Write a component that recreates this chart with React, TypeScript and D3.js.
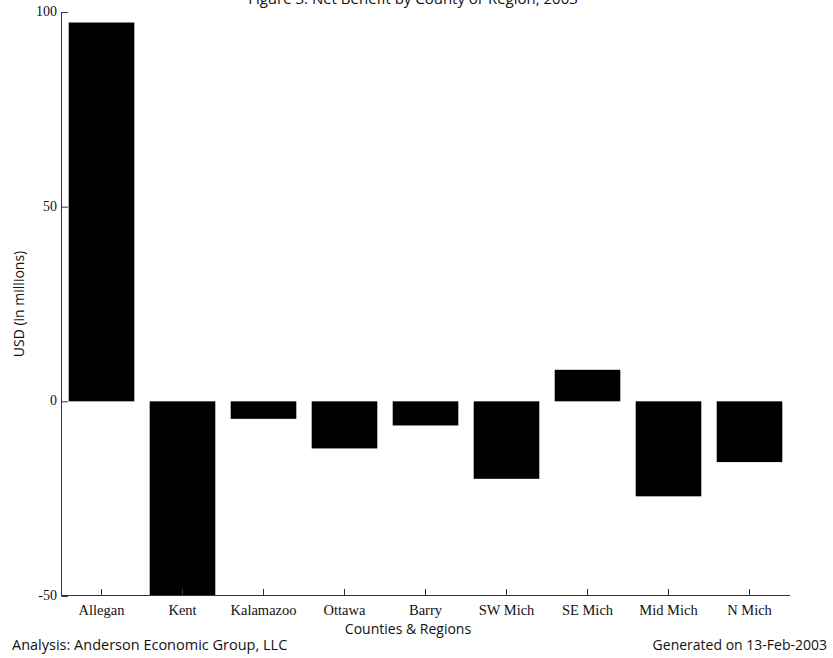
import React from "react";
import * as d3 from "d3";

const categories = ["Allegan", "Kent", "Kalamazoo", "Ottawa", "Barry", "SW Mich", "SE Mich", "Mid Mich", "N Mich"];
const values = [97.3, -62, -4.5, -12.1, -6.2, -19.9, 8.1, -24.4, -15.6];
const yTicks = [-50, 0, 50, 100];

const W = 833;
const H = 658;

export default function App() {
  const x = d3.scaleBand<string>().domain(categories).range([61, 790]).paddingInner(0.19).paddingOuter(0.095);
  const y = d3.scaleLinear().domain([-50, 100]).range([596, 12]);
  const clipBottom = y(-50);
  const serif = "'Liberation Serif', 'DejaVu Serif', serif";
  const sans = "'Open Sans', 'Noto Sans', sans-serif";
  return (
    <svg width={W} height={H} style={{ position: "absolute", left: 0, top: 0, background: "#fff" }}>
      <text x={413} y={4} textAnchor="middle" fontFamily={sans} fontSize={15} fill="#111">
        Figure 3: Net Benefit by County or Region, 2003
      </text>
      {categories.map((c, i) => {
        const v = values[i];
        const y0 = y(0);
        const y1 = Math.max(Math.min(y(v), clipBottom), 12);
        return (
          <rect key={c} x={x(c)} width={x.bandwidth()} y={Math.min(y0, y1)} height={Math.abs(y1 - y0)} fill="#000" />
        );
      })}
      {/* y axis */}
      <line x1={61.5} x2={61.5} y1={y(100)} y2={y(-50)} stroke="#333" strokeWidth={1} />
      {yTicks.map((t) => (
        <g key={t}>
          <line x1={61.5} x2={68} y1={y(t) + 0.5} y2={y(t) + 0.5} stroke="#333" />
          <text x={57} y={y(t) + 4} textAnchor="end" fontFamily={serif} fontSize={14} fill="#111">
            {t}
          </text>
        </g>
      ))}
      {/* x axis */}
      <line x1={61} x2={790} y1={595.5} y2={595.5} stroke="#333" strokeWidth={1} />
      {categories.map((c) => {
        const cx = (x(c) as number) + x.bandwidth() / 2;
        return (
          <g key={c}>
            <line x1={cx} x2={cx} y1={595.5} y2={589} stroke="#333" />
            <text x={cx} y={615} textAnchor="middle" fontFamily={serif} fontSize={14.5} fill="#111">
              {c}
            </text>
          </g>
        );
      })}
      <text transform={`translate(24,${y(25)}) rotate(-90)`} textAnchor="middle" fontFamily={sans} fontSize={14} fill="#111">
        USD (in millions)
      </text>
      <text x={408} y={634} textAnchor="middle" fontFamily={sans} fontSize={14} fill="#111">
        Counties &amp; Regions
      </text>
      <text x={12} y={650} fontFamily={sans} fontSize={14.5} fill="#111">
        Analysis: Anderson Economic Group, LLC
      </text>
      <text x={827} y={650} textAnchor="end" fontFamily={sans} fontSize={14} fill="#111">
        Generated on 13-Feb-2003
      </text>
    </svg>
  );
}
